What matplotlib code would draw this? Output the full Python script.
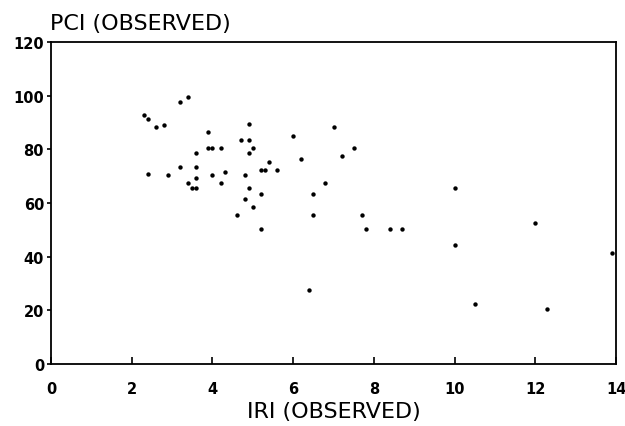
import matplotlib
matplotlib.use("Agg")
from matplotlib import pyplot as plt

# IRI vs PCI
iri = [2.3, 2.4, 2.6, 2.8, 3.2, 3.4, 2.4, 2.9, 3.2, 3.4, 3.5, 3.6,
       3.6, 3.6, 3.6, 3.9, 3.9, 4.0, 4.2, 4.0, 4.2, 4.3,
       4.7, 4.9, 4.9, 4.9, 5.0, 4.8, 4.9, 4.8, 5.0, 4.6, 5.2,
       5.2, 5.3, 5.4, 5.6, 6.0, 6.2, 6.5, 6.5, 5.2, 6.4,
       7.0, 7.5, 7.2, 6.8, 7.7, 10.0,
       7.8, 8.4, 8.7, 10.0, 10.5, 12.0, 12.3, 13.9]
pci = [93, 91.5, 88.5, 89, 97.5, 99.5, 71, 70.5, 73.5, 67.5, 65.5, 65.5,
       78.5, 73.5, 69.5, 86.5, 80.5, 80.5, 80.5, 70.5, 67.5, 71.5,
       83.5, 89.5, 83.5, 78.5, 80.5, 70.5, 65.5, 61.5, 58.5, 55.5, 63.5,
       72.5, 72.5, 75.5, 72.5, 85, 76.5, 63.5, 55.5, 50.5, 27.5,
       88.5, 80.5, 77.5, 67.5, 55.5, 65.5,
       50.5, 50.5, 50.5, 44.5, 22.5, 52.5, 20.5, 41.5]

x_ticks = [0, 2, 4, 6, 8, 10, 12, 14]
y_ticks = [0, 20, 40, 60, 80, 100, 120]

plt.rcParams['font.family'] = ['DejaVu Sans']

fig = plt.figure(figsize=(6.25, 4.27), dpi=100)
ax = fig.add_axes([0.0816, 0.145, 0.904, 0.754])

ax.scatter(iri, pci, s=10, c="black", marker="o", linewidths=0)

ax.set_xlim(0, 14)
ax.set_ylim(0, 120)
ax.set_xticks(x_ticks)
ax.set_yticks(y_ticks)
ax.tick_params(axis="x", direction="in", length=5, width=1.2, pad=12,
               labelsize=10.5)
ax.tick_params(axis="y", direction="out", length=3, width=1.2, pad=2,
               labelsize=10.5)
for lab in ax.get_xticklabels() + ax.get_yticklabels():
    lab.set_fontweight("bold")
for sp in ax.spines.values():
    sp.set_linewidth(1.3)

ax.set_xlabel("IRI (OBSERVED)", fontsize=16, labelpad=4)
fig.text(0.08, 0.944, "PCI (OBSERVED)", fontsize=16, ha="left", va="center")

fig.savefig("out.png", dpi=100)
